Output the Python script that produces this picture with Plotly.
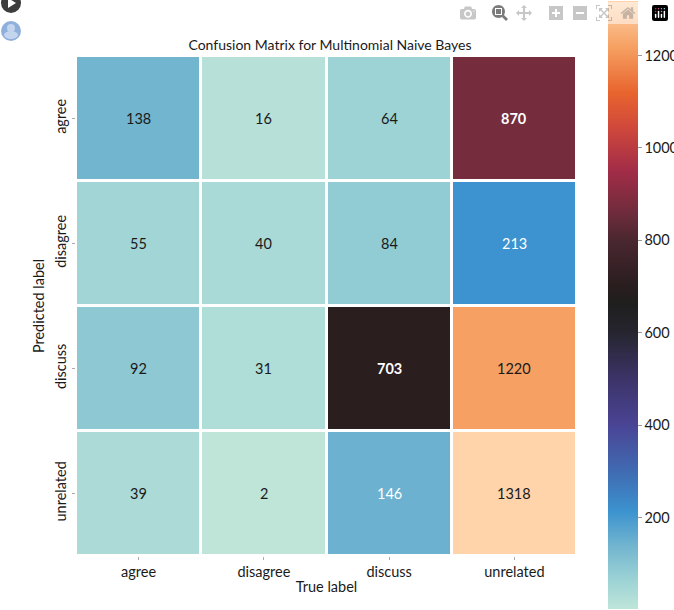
import plotly.graph_objects as go

true_labels = ["agree", "disagree", "discuss", "unrelated"]
pred_labels = ["agree", "disagree", "discuss", "unrelated"]
counts = [
    [138, 16, 64, 870],
    [55, 40, 84, 213],
    [92, 31, 703, 1220],
    [39, 2, 146, 1318],
]
light_text_values = [146, 213, 703, 870]
bold_values = [703, 870]
colorbar_ticks = [200, 400, 600, 800, 1000, 1200]

FONT = "Lato, Noto Sans, sans-serif"
TEXT = "#1a1a1a"
vmin, vmax = 2, 1318
stops = [
    (2, "#bfe5d9"), (64, "#9dd3d5"), (138, "#72b5cf"), (213, "#3c93cf"),
    (290, "#3f6fb5"), (400, "#4a4495"), (500, "#3c3468"), (600, "#26252f"),
    (660, "#1f1e1e"), (703, "#2a1e1f"), (800, "#4a2730"), (870, "#752c3d"),
    (950, "#a22c48"), (1050, "#d24a3a"), (1120, "#e8652e"), (1220, "#f6a163"),
    (1318, "#ffd4ab"),
]
colorscale = [[(v - vmin) / (vmax - vmin), c] for v, c in stops]

fig = go.Figure(go.Heatmap(
    z=counts, x=true_labels, y=pred_labels,
    zmin=vmin, zmax=vmax, colorscale=colorscale,
    xgap=3, ygap=3, hoverongaps=False,
    colorbar=dict(
        thickness=30, thicknessmode="pixels", len=608, lenmode="pixels",
        x=1.062, xanchor="left", xpad=0, y=1.11, yanchor="top", ypad=0,
        outlinewidth=0, tickvals=colorbar_ticks, ticks="outside", ticklen=4,
        tickcolor="#999999", tickfont=dict(family=FONT, size=14.5, color=TEXT),
    ),
))

for i, row in enumerate(counts):
    for j, v in enumerate(row):
        fig.add_annotation(
            x=true_labels[j], y=pred_labels[i], text=f"<b>{v}</b>" if v in bold_values else str(v),
            showarrow=False,
            font=dict(family=FONT, size=14.5, color="#ffffff" if v in light_text_values else TEXT),
        )

W, H = 501, 500
fig.update_layout(
    width=674, height=610, autosize=False,
    margin=dict(l=76, r=97, t=56, b=54, autoexpand=False),
    paper_bgcolor="white", plot_bgcolor="white",
    font=dict(family=FONT, size=14.5, color=TEXT),
    title=dict(text="Confusion Matrix for Multinomial Naive Bayes",
               x=330 / 674, xanchor="center", y=1 - 45 / 610, yanchor="middle",
               font=dict(family=FONT, size=14, color=TEXT)),
    xaxis=dict(title=dict(text="True label", standoff=2, font=dict(size=14.5)),
               ticks="outside", ticklen=3, tickcolor="#aaaaaa", showgrid=False,
               zeroline=False, showline=False),
    yaxis=dict(title=dict(text="Predicted label", standoff=4, font=dict(size=14.5)),
               autorange="reversed", tickangle=-90,
               ticks="outside", ticklen=3, tickcolor="#aaaaaa", showgrid=False,
               zeroline=False, showline=False),
    shapes=[
        dict(type="circle", xref="paper", yref="paper", x0=-75 / W, x1=-55 / W,
             y0=1 + 43 / H, y1=1 + 63 / H, fillcolor="#3d3d3d", line_width=0),
        dict(type="path", xref="paper", yref="paper",
             path=f"M {-68/W} {1+58/H} L {-68/W} {1+48/H} L {-60/W} {1+53/H} Z",
             fillcolor="white", line_width=0),
        dict(type="circle", xref="paper", yref="paper", x0=-75 / W, x1=-55 / W,
             y0=1 + 15 / H, y1=1 + 35 / H, fillcolor="#8fb0dc", line_width=0),
        dict(type="circle", xref="paper", yref="paper", x0=-69 / W, x1=-61 / W,
             y0=1 + 24 / H, y1=1 + 32 / H, fillcolor="#c4d5ee", line_width=0),
        dict(type="circle", xref="paper", yref="paper", x0=-72 / W, x1=-58 / W,
             y0=1 + 17 / H, y1=1 + 25 / H, fillcolor="#c4d5ee", line_width=0),
    ],
)

fig.write_html("out.html", post_script="document.body.style.margin='0';")
